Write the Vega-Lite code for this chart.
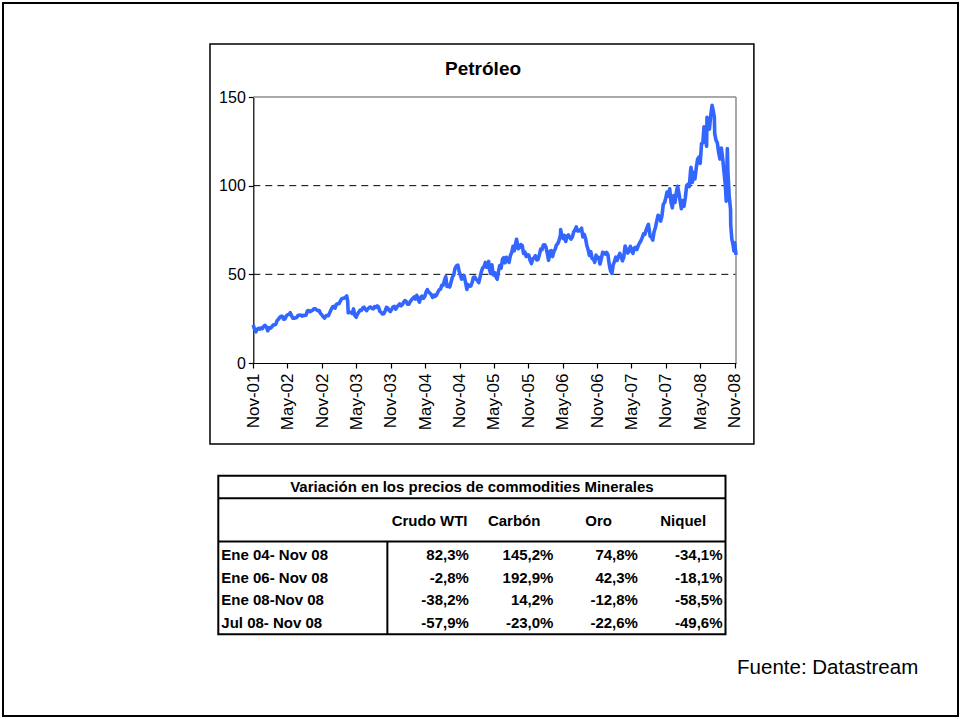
{
"$schema": "https://vega.github.io/schema/vega-lite/v6.json",
"width": 955, "height": 713, "autosize": "none", "padding": 3, "background": "white",
"config": {"view": {"stroke": "#000", "strokeWidth": 2}, "font": "Liberation Sans",
  "axis": {"domainColor": "#000", "tickColor": "#000", "labelColor": "#000", "labelFont": "Liberation Sans", "grid": false, "zindex": 1, "domainWidth": 1.2, "tickWidth": 1.2},
  "axisX": {"offset": -353, "tickSize": 5, "labelPadding": 5, "labelFontSize": 17, "labelAngle": 270, "labelFlush": false, "labelOverlap": false},
  "axisY": {"offset": -250.3, "tickSize": 5, "labelPadding": 3, "labelFontSize": 16}
},
"layer": [
 {"layer": [
  {"data": {"values": [{}]},
   "mark": {"type": "rect", "fillOpacity": 0, "stroke": "#000", "strokeWidth": 1.5},
   "encoding": {
     "x": {"datum": {"year": 2001, "month": 3, "date": 16, "utc": true}, "type": "temporal", "scale": {"type": "utc", "nice": false, "domain": [{"year": 2001, "month": 11, "date": 1, "utc": true}, {"year": 2008, "month": 11, "date": 7, "utc": true}], "range": [250.3, 733]}},
     "x2": {"datum": {"year": 2009, "month": 2, "date": 10, "utc": true}},
     "y": {"datum": 179.9, "type": "quantitative", "scale": {"nice": false, "domain": [0, 150], "range": [360, 94]}},
     "y2": {"datum": -45.7}
   }},
  {"data": {"values": [{"p": 50}, {"p": 100}]},
   "mark": {"type": "rule", "color": "#000", "strokeWidth": 1, "strokeDash": [7, 5]},
   "encoding": {
     "x": {"datum": {"year": 2001, "month": 11, "date": 1, "utc": true}, "type": "temporal"},
     "x2": {"datum": {"year": 2008, "month": 11, "date": 7, "utc": true}},
     "y": {"field": "p", "type": "quantitative", "title": null}
   }},
  {"data": {"values": [{}]},
   "mark": {"type": "rule", "color": "#8c8c8c", "strokeWidth": 1.5},
   "encoding": {
     "x": {"datum": {"year": 2001, "month": 11, "date": 1, "utc": true}, "type": "temporal"},
     "x2": {"datum": {"year": 2008, "month": 11, "date": 7, "utc": true}},
     "y": {"datum": 150, "type": "quantitative"}
   }},
  {"data": {"values": [{}]},
   "mark": {"type": "rule", "color": "#8c8c8c", "strokeWidth": 1.5},
   "encoding": {
     "x": {"datum": {"year": 2008, "month": 11, "date": 7, "utc": true}, "type": "temporal"},
     "y": {"datum": 0, "type": "quantitative"},
     "y2": {"datum": 150}
   }},
  {"data": {"values": [
{"d":"2001-11-01","p":21.5},{"d":"2001-11-05","p":19.8},{"d":"2001-11-09","p":19.0},{"d":"2001-11-15","p":17.6},{"d":"2001-11-21","p":18.9},{"d":"2001-11-28","p":19.5},{"d":"2001-12-05","p":19.1},{"d":"2001-12-12","p":19.8},{"d":"2001-12-19","p":19.4},{"d":"2001-12-27","p":20.8},
{"d":"2002-01-03","p":21.2},{"d":"2002-01-10","p":20.1},{"d":"2002-01-17","p":18.2},{"d":"2002-01-24","p":19.9},{"d":"2002-01-31","p":19.6},{"d":"2002-02-07","p":20.3},{"d":"2002-02-14","p":21.4},{"d":"2002-02-21","p":21.5},{"d":"2002-02-28","p":21.7},{"d":"2002-03-07","p":23.8},{"d":"2002-03-14","p":24.6},{"d":"2002-03-21","p":25.7},{"d":"2002-03-28","p":26.3},{"d":"2002-04-04","p":26.4},{"d":"2002-04-11","p":24.7},{"d":"2002-04-18","p":24.8},{"d":"2002-04-25","p":26.5},{"d":"2002-05-02","p":27.2},{"d":"2002-05-09","p":27.3},{"d":"2002-05-16","p":28.4},{"d":"2002-05-23","p":26.7},{"d":"2002-05-30","p":25.3},{"d":"2002-06-06","p":25.2},{"d":"2002-06-13","p":25.5},{"d":"2002-06-20","p":25.7},{"d":"2002-06-27","p":26.9},{"d":"2002-07-04","p":26.9},{"d":"2002-07-11","p":27.0},{"d":"2002-07-18","p":26.4},{"d":"2002-07-25","p":26.9},{"d":"2002-08-01","p":26.8},{"d":"2002-08-08","p":26.9},{"d":"2002-08-15","p":29.3},{"d":"2002-08-22","p":29.6},{"d":"2002-08-29","p":28.9},{"d":"2002-09-05","p":29.4},{"d":"2002-09-12","p":29.8},{"d":"2002-09-19","p":30.6},{"d":"2002-09-26","p":30.6},{"d":"2002-10-03","p":30.0},{"d":"2002-10-10","p":29.5},{"d":"2002-10-17","p":29.6},{"d":"2002-10-24","p":27.9},{"d":"2002-10-31","p":27.2},{"d":"2002-11-07","p":26.1},{"d":"2002-11-14","p":25.3},{"d":"2002-11-21","p":26.5},{"d":"2002-11-28","p":26.9},{"d":"2002-12-05","p":26.7},{"d":"2002-12-12","p":28.4},{"d":"2002-12-19","p":30.1},{"d":"2002-12-27","p":31.7},
{"d":"2003-01-02","p":31.9},{"d":"2003-01-09","p":30.9},{"d":"2003-01-16","p":33.1},{"d":"2003-01-23","p":33.4},{"d":"2003-01-30","p":33.5},{"d":"2003-02-06","p":34.9},{"d":"2003-02-13","p":36.2},{"d":"2003-02-20","p":36.5},{"d":"2003-02-27","p":36.6},{"d":"2003-03-06","p":37.2},{"d":"2003-03-12","p":37.8},{"d":"2003-03-17","p":34.9},{"d":"2003-03-20","p":28.3},{"d":"2003-03-27","p":28.6},{"d":"2003-04-03","p":28.6},{"d":"2003-04-10","p":27.9},{"d":"2003-04-17","p":30.5},{"d":"2003-04-24","p":26.8},{"d":"2003-05-01","p":25.8},{"d":"2003-05-08","p":27.5},{"d":"2003-05-15","p":28.7},{"d":"2003-05-22","p":29.8},{"d":"2003-05-29","p":29.6},{"d":"2003-06-05","p":31.0},{"d":"2003-06-12","p":31.5},{"d":"2003-06-19","p":30.2},{"d":"2003-06-26","p":29.6},{"d":"2003-07-03","p":30.6},{"d":"2003-07-10","p":31.3},{"d":"2003-07-17","p":31.6},{"d":"2003-07-24","p":30.8},{"d":"2003-07-31","p":30.5},{"d":"2003-08-07","p":31.8},{"d":"2003-08-14","p":31.4},{"d":"2003-08-21","p":32.2},{"d":"2003-08-28","p":31.5},{"d":"2003-09-04","p":29.1},{"d":"2003-09-11","p":28.5},{"d":"2003-09-18","p":27.6},{"d":"2003-09-25","p":27.8},{"d":"2003-10-02","p":29.3},{"d":"2003-10-09","p":31.4},{"d":"2003-10-16","p":31.0},{"d":"2003-10-23","p":29.6},{"d":"2003-10-30","p":29.1},{"d":"2003-11-06","p":30.3},{"d":"2003-11-13","p":31.6},{"d":"2003-11-20","p":31.9},{"d":"2003-11-27","p":30.4},{"d":"2003-12-04","p":31.6},{"d":"2003-12-11","p":32.4},{"d":"2003-12-18","p":33.3},{"d":"2003-12-26","p":32.3},
{"d":"2004-01-02","p":33.0},{"d":"2004-01-08","p":34.3},{"d":"2004-01-15","p":35.2},{"d":"2004-01-22","p":34.7},{"d":"2004-01-29","p":33.2},{"d":"2004-02-05","p":33.1},{"d":"2004-02-12","p":34.6},{"d":"2004-02-19","p":35.6},{"d":"2004-02-26","p":36.5},{"d":"2004-03-04","p":37.2},{"d":"2004-03-11","p":36.1},{"d":"2004-03-18","p":38.2},{"d":"2004-03-25","p":35.8},{"d":"2004-04-01","p":34.3},{"d":"2004-04-08","p":37.1},{"d":"2004-04-15","p":37.7},{"d":"2004-04-22","p":36.5},{"d":"2004-04-29","p":37.4},{"d":"2004-05-06","p":39.9},{"d":"2004-05-13","p":41.4},{"d":"2004-05-20","p":40.0},{"d":"2004-05-27","p":39.4},{"d":"2004-06-03","p":38.5},{"d":"2004-06-10","p":37.0},{"d":"2004-06-17","p":38.3},{"d":"2004-06-24","p":37.6},{"d":"2004-07-01","p":38.4},{"d":"2004-07-08","p":39.9},{"d":"2004-07-15","p":41.3},{"d":"2004-07-22","p":41.7},{"d":"2004-07-29","p":43.8},{"d":"2004-08-05","p":43.9},{"d":"2004-08-12","p":46.6},{"d":"2004-08-19","p":48.7},{"d":"2004-08-26","p":43.2},{"d":"2004-09-02","p":43.9},{"d":"2004-09-09","p":42.8},{"d":"2004-09-16","p":45.6},{"d":"2004-09-23","p":48.4},{"d":"2004-09-30","p":49.6},{"d":"2004-10-07","p":53.3},{"d":"2004-10-14","p":54.7},{"d":"2004-10-22","p":55.2},{"d":"2004-10-29","p":51.8},{"d":"2004-11-04","p":49.6},{"d":"2004-11-11","p":47.3},{"d":"2004-11-18","p":48.4},{"d":"2004-11-24","p":49.4},{"d":"2004-12-02","p":45.5},{"d":"2004-12-09","p":41.5},{"d":"2004-12-16","p":44.2},{"d":"2004-12-23","p":43.3},{"d":"2004-12-30","p":43.4},
{"d":"2005-01-06","p":45.4},{"d":"2005-01-13","p":48.4},{"d":"2005-01-20","p":48.5},{"d":"2005-01-27","p":47.2},{"d":"2005-02-03","p":46.5},{"d":"2005-02-10","p":45.3},{"d":"2005-02-17","p":48.4},{"d":"2005-02-24","p":51.5},{"d":"2005-03-03","p":53.6},{"d":"2005-03-10","p":54.4},{"d":"2005-03-17","p":56.7},{"d":"2005-03-24","p":54.0},{"d":"2005-03-31","p":55.4},{"d":"2005-04-04","p":57.3},{"d":"2005-04-07","p":53.3},{"d":"2005-04-14","p":50.5},{"d":"2005-04-21","p":55.4},{"d":"2005-04-28","p":49.7},{"d":"2005-05-05","p":51.0},{"d":"2005-05-12","p":48.7},{"d":"2005-05-19","p":47.2},{"d":"2005-05-26","p":51.8},{"d":"2005-06-02","p":55.0},{"d":"2005-06-09","p":53.5},{"d":"2005-06-16","p":58.5},{"d":"2005-06-23","p":59.4},{"d":"2005-06-30","p":56.5},{"d":"2005-07-07","p":59.6},{"d":"2005-07-14","p":58.1},{"d":"2005-07-21","p":56.7},{"d":"2005-07-28","p":60.6},{"d":"2005-08-04","p":62.3},{"d":"2005-08-11","p":65.8},{"d":"2005-08-18","p":63.3},{"d":"2005-08-25","p":67.5},{"d":"2005-08-30","p":69.8},{"d":"2005-09-08","p":64.4},{"d":"2005-09-15","p":65.1},{"d":"2005-09-22","p":66.8},{"d":"2005-09-29","p":66.2},{"d":"2005-10-06","p":61.8},{"d":"2005-10-13","p":62.6},{"d":"2005-10-20","p":60.1},{"d":"2005-10-27","p":61.1},{"d":"2005-11-03","p":60.8},{"d":"2005-11-10","p":57.8},{"d":"2005-11-17","p":56.1},{"d":"2005-11-24","p":58.7},{"d":"2005-12-01","p":59.3},{"d":"2005-12-08","p":60.5},{"d":"2005-12-15","p":58.1},{"d":"2005-12-22","p":58.4},{"d":"2005-12-29","p":61.0},
{"d":"2006-01-05","p":64.2},{"d":"2006-01-12","p":63.9},{"d":"2006-01-19","p":66.5},{"d":"2006-01-26","p":66.7},{"d":"2006-02-02","p":65.4},{"d":"2006-02-09","p":61.8},{"d":"2006-02-16","p":57.9},{"d":"2006-02-23","p":62.9},{"d":"2006-03-02","p":63.4},{"d":"2006-03-09","p":60.0},{"d":"2006-03-16","p":62.7},{"d":"2006-03-23","p":64.3},{"d":"2006-03-30","p":66.6},{"d":"2006-04-06","p":67.4},{"d":"2006-04-13","p":69.3},{"d":"2006-04-20","p":72.2},{"d":"2006-04-21","p":75.2},{"d":"2006-04-27","p":71.9},{"d":"2006-05-04","p":70.2},{"d":"2006-05-11","p":72.0},{"d":"2006-05-18","p":68.5},{"d":"2006-05-25","p":71.4},{"d":"2006-06-01","p":72.3},{"d":"2006-06-08","p":70.8},{"d":"2006-06-15","p":69.9},{"d":"2006-06-22","p":71.0},{"d":"2006-06-29","p":73.9},{"d":"2006-07-06","p":75.0},{"d":"2006-07-13","p":76.7},{"d":"2006-07-20","p":74.4},{"d":"2006-07-27","p":74.5},{"d":"2006-08-03","p":75.0},{"d":"2006-08-10","p":76.0},{"d":"2006-08-17","p":71.1},{"d":"2006-08-24","p":72.5},{"d":"2006-08-31","p":70.3},{"d":"2006-09-07","p":66.3},{"d":"2006-09-14","p":63.8},{"d":"2006-09-21","p":60.6},{"d":"2006-09-28","p":62.8},{"d":"2006-10-05","p":58.9},{"d":"2006-10-12","p":58.6},{"d":"2006-10-19","p":56.8},{"d":"2006-10-26","p":60.8},{"d":"2006-11-02","p":59.1},{"d":"2006-11-09","p":59.6},{"d":"2006-11-16","p":55.8},{"d":"2006-11-23","p":58.9},{"d":"2006-11-30","p":62.4},{"d":"2006-12-07","p":62.2},{"d":"2006-12-14","p":61.4},{"d":"2006-12-21","p":62.4},{"d":"2006-12-28","p":61.1},
{"d":"2007-01-04","p":55.6},{"d":"2007-01-11","p":51.9},{"d":"2007-01-18","p":50.5},{"d":"2007-01-25","p":55.4},{"d":"2007-02-01","p":57.3},{"d":"2007-02-08","p":59.7},{"d":"2007-02-15","p":57.9},{"d":"2007-02-22","p":60.1},{"d":"2007-03-01","p":61.8},{"d":"2007-03-08","p":60.1},{"d":"2007-03-15","p":57.6},{"d":"2007-03-22","p":59.6},{"d":"2007-03-29","p":66.0},{"d":"2007-04-05","p":64.3},{"d":"2007-04-12","p":62.0},{"d":"2007-04-19","p":63.1},{"d":"2007-04-26","p":65.8},{"d":"2007-05-03","p":63.1},{"d":"2007-05-10","p":61.8},{"d":"2007-05-17","p":64.9},{"d":"2007-05-24","p":65.2},{"d":"2007-05-31","p":64.0},{"d":"2007-06-07","p":66.2},{"d":"2007-06-14","p":67.7},{"d":"2007-06-21","p":68.9},{"d":"2007-06-28","p":70.7},{"d":"2007-07-05","p":72.8},{"d":"2007-07-12","p":72.5},{"d":"2007-07-19","p":75.1},{"d":"2007-07-26","p":77.0},{"d":"2007-07-31","p":78.2},{"d":"2007-08-09","p":71.6},{"d":"2007-08-16","p":71.0},{"d":"2007-08-23","p":69.3},{"d":"2007-08-30","p":74.0},{"d":"2007-09-06","p":76.3},{"d":"2007-09-13","p":79.9},{"d":"2007-09-20","p":83.3},{"d":"2007-09-27","p":82.9},{"d":"2007-10-04","p":80.0},{"d":"2007-10-11","p":83.1},{"d":"2007-10-18","p":89.5},{"d":"2007-10-25","p":90.5},{"d":"2007-11-01","p":93.5},{"d":"2007-11-07","p":96.4},{"d":"2007-11-14","p":94.1},{"d":"2007-11-21","p":98.2},{"d":"2007-11-28","p":90.6},{"d":"2007-12-05","p":87.5},{"d":"2007-12-12","p":94.4},{"d":"2007-12-19","p":90.5},{"d":"2007-12-27","p":96.6},
{"d":"2008-01-02","p":99.6},{"d":"2008-01-09","p":95.7},{"d":"2008-01-16","p":90.8},{"d":"2008-01-22","p":87.0},{"d":"2008-01-29","p":91.6},{"d":"2008-02-05","p":88.4},{"d":"2008-02-12","p":93.3},{"d":"2008-02-19","p":100.0},{"d":"2008-02-26","p":100.9},{"d":"2008-03-04","p":99.5},{"d":"2008-03-11","p":108.8},{"d":"2008-03-13","p":110.3},{"d":"2008-03-20","p":101.8},{"d":"2008-03-27","p":107.6},{"d":"2008-04-03","p":103.8},{"d":"2008-04-10","p":110.1},{"d":"2008-04-17","p":114.9},{"d":"2008-04-24","p":116.1},{"d":"2008-05-01","p":112.5},{"d":"2008-05-08","p":123.7},{"d":"2008-05-15","p":124.1},{"d":"2008-05-21","p":133.2},{"d":"2008-05-29","p":126.6},{"d":"2008-06-04","p":122.3},{"d":"2008-06-06","p":138.5},{"d":"2008-06-12","p":136.7},{"d":"2008-06-19","p":131.9},{"d":"2008-06-26","p":139.6},{"d":"2008-07-03","p":145.3},{"d":"2008-07-10","p":141.7},{"d":"2008-07-15","p":138.7},{"d":"2008-07-17","p":129.3},{"d":"2008-07-24","p":125.5},{"d":"2008-07-31","p":124.1},{"d":"2008-08-07","p":118.6},{"d":"2008-08-14","p":115.0},{"d":"2008-08-21","p":121.2},{"d":"2008-08-28","p":115.6},{"d":"2008-09-04","p":107.9},{"d":"2008-09-11","p":100.9},{"d":"2008-09-16","p":91.2},{"d":"2008-09-19","p":104.6},{"d":"2008-09-22","p":120.9},{"d":"2008-09-25","p":108.0},{"d":"2008-10-02","p":94.0},{"d":"2008-10-09","p":86.6},{"d":"2008-10-10","p":77.7},{"d":"2008-10-16","p":69.9},{"d":"2008-10-22","p":66.8},{"d":"2008-10-27","p":63.2},{"d":"2008-10-31","p":67.8},{"d":"2008-11-07","p":61.0}
  ]},
   "mark": {"type": "line", "color": "#3366ff", "strokeWidth": 3.6, "strokeJoin": "round"},
   "encoding": {
     "x": {"field": "d", "type": "temporal", "title": null,
       "axis": {"format": "%b-%y", "values": [
         {"year": 2001, "month": 11, "date": 1, "utc": true}, {"year": 2002, "month": 5, "date": 1, "utc": true},
         {"year": 2002, "month": 11, "date": 1, "utc": true}, {"year": 2003, "month": 5, "date": 1, "utc": true},
         {"year": 2003, "month": 11, "date": 1, "utc": true}, {"year": 2004, "month": 5, "date": 1, "utc": true},
         {"year": 2004, "month": 11, "date": 1, "utc": true}, {"year": 2005, "month": 5, "date": 1, "utc": true},
         {"year": 2005, "month": 11, "date": 1, "utc": true}, {"year": 2006, "month": 5, "date": 1, "utc": true},
         {"year": 2006, "month": 11, "date": 1, "utc": true}, {"year": 2007, "month": 5, "date": 1, "utc": true},
         {"year": 2007, "month": 11, "date": 1, "utc": true}, {"year": 2008, "month": 5, "date": 1, "utc": true},
         {"year": 2008, "month": 11, "date": 1, "utc": true}]}},
     "y": {"field": "p", "type": "quantitative", "title": null, "axis": {"values": [0, 50, 100, 150]}}
   }},
  {"data": {"values": [{}]},
   "mark": {"type": "text", "text": "Petróleo", "fontSize": 19, "fontWeight": "bold", "align": "center", "baseline": "middle", "color": "#000"},
   "encoding": {
     "x": {"datum": {"year": 2005, "month": 3, "date": 5, "utc": true}, "type": "temporal"},
     "y": {"datum": 165.8, "type": "quantitative"}
   }}
 ]},
 {"layer": [
  {"data": {"values": [{}]},
   "mark": {"type": "rect", "fillOpacity": 0, "stroke": "#000", "strokeWidth": 2},
   "encoding": {
     "x": {"datum": 0, "type": "quantitative", "axis": null, "scale": {"domain": [0, 6], "range": [215.3, 722.5], "nice": false, "zero": false}},
     "x2": {"datum": 6},
     "y": {"datum": -0.5, "type": "quantitative", "axis": null, "scale": {"domain": [0, 6], "range": [484, 620], "nice": false, "zero": false}},
     "y2": {"datum": 6.5}
   }},
  {"data": {"values": [{}]},
   "mark": {"type": "rule", "color": "#000", "strokeWidth": 2},
   "encoding": {"x": {"datum": 0, "type": "quantitative", "axis": null}, "x2": {"datum": 6}, "y": {"datum": 0.5, "type": "quantitative", "axis": null}}},
  {"data": {"values": [{}]},
   "mark": {"type": "rule", "color": "#000", "strokeWidth": 2},
   "encoding": {"x": {"datum": 0, "type": "quantitative", "axis": null}, "x2": {"datum": 6}, "y": {"datum": 2.4, "type": "quantitative", "axis": null}}},
  {"data": {"values": [{}]},
   "mark": {"type": "rule", "color": "#000", "strokeWidth": 2},
   "encoding": {"x": {"datum": 2, "type": "quantitative", "axis": null}, "y": {"datum": 2.4, "type": "quantitative", "axis": null}, "y2": {"datum": 6.5}}},
  {"data": {"values": [{}]},
   "mark": {"type": "text", "text": "Variación en los precios de commodities Minerales", "fontSize": 15, "fontWeight": "bold", "align": "center", "baseline": "middle", "color": "#000"},
   "encoding": {"x": {"datum": 3, "type": "quantitative", "axis": null}, "y": {"datum": 0, "type": "quantitative", "axis": null}}},
  {"data": {"values": [{"c": 3, "t": "Crudo WTI"}, {"c": 4, "t": "Carbón"}, {"c": 5, "t": "Oro"}, {"c": 6, "t": "Niquel"}]},
   "mark": {"type": "text", "fontSize": 15, "fontWeight": "bold", "align": "center", "baseline": "middle", "dx": -42.3, "color": "#000"},
   "encoding": {"x": {"field": "c", "type": "quantitative", "axis": null}, "y": {"datum": 1.5, "type": "quantitative", "axis": null}, "text": {"field": "t"}}},
  {"data": {"values": [{"r": 3, "t": "Ene 04- Nov 08"}, {"r": 4, "t": "Ene 06- Nov 08"}, {"r": 5, "t": "Ene 08-Nov 08"}, {"r": 6, "t": "Jul 08- Nov 08"}]},
   "mark": {"type": "text", "fontSize": 15, "fontWeight": "bold", "align": "left", "baseline": "middle", "dx": 3, "color": "#000"},
   "encoding": {"x": {"datum": 0, "type": "quantitative", "axis": null}, "y": {"field": "r", "type": "quantitative", "axis": null}, "text": {"field": "t"}}},
  {"data": {"values": [
    {"r": 3, "c": 3, "v": "82,3%"}, {"r": 3, "c": 4, "v": "145,2%"}, {"r": 3, "c": 5, "v": "74,8%"}, {"r": 3, "c": 6, "v": "-34,1%"},
    {"r": 4, "c": 3, "v": "-2,8%"}, {"r": 4, "c": 4, "v": "192,9%"}, {"r": 4, "c": 5, "v": "42,3%"}, {"r": 4, "c": 6, "v": "-18,1%"},
    {"r": 5, "c": 3, "v": "-38,2%"}, {"r": 5, "c": 4, "v": "14,2%"}, {"r": 5, "c": 5, "v": "-12,8%"}, {"r": 5, "c": 6, "v": "-58,5%"},
    {"r": 6, "c": 3, "v": "-57,9%"}, {"r": 6, "c": 4, "v": "-23,0%"}, {"r": 6, "c": 5, "v": "-22,6%"}, {"r": 6, "c": 6, "v": "-49,6%"}]},
   "mark": {"type": "text", "fontSize": 15, "fontWeight": "bold", "align": "right", "baseline": "middle", "dx": -3, "color": "#000"},
   "encoding": {"x": {"field": "c", "type": "quantitative", "axis": null}, "y": {"field": "r", "type": "quantitative", "axis": null}, "text": {"field": "v"}}},
  {"data": {"values": [{}]},
   "mark": {"type": "text", "text": "Fuente: Datastream", "fontSize": 20.5, "align": "right", "baseline": "alphabetic", "color": "#000"},
   "encoding": {"x": {"datum": 8.28, "type": "quantitative", "axis": null}, "y": {"datum": 8.25, "type": "quantitative", "axis": null}}}
 ]}
],
"resolve": {"scale": {"x": "independent", "y": "independent"}}
}
